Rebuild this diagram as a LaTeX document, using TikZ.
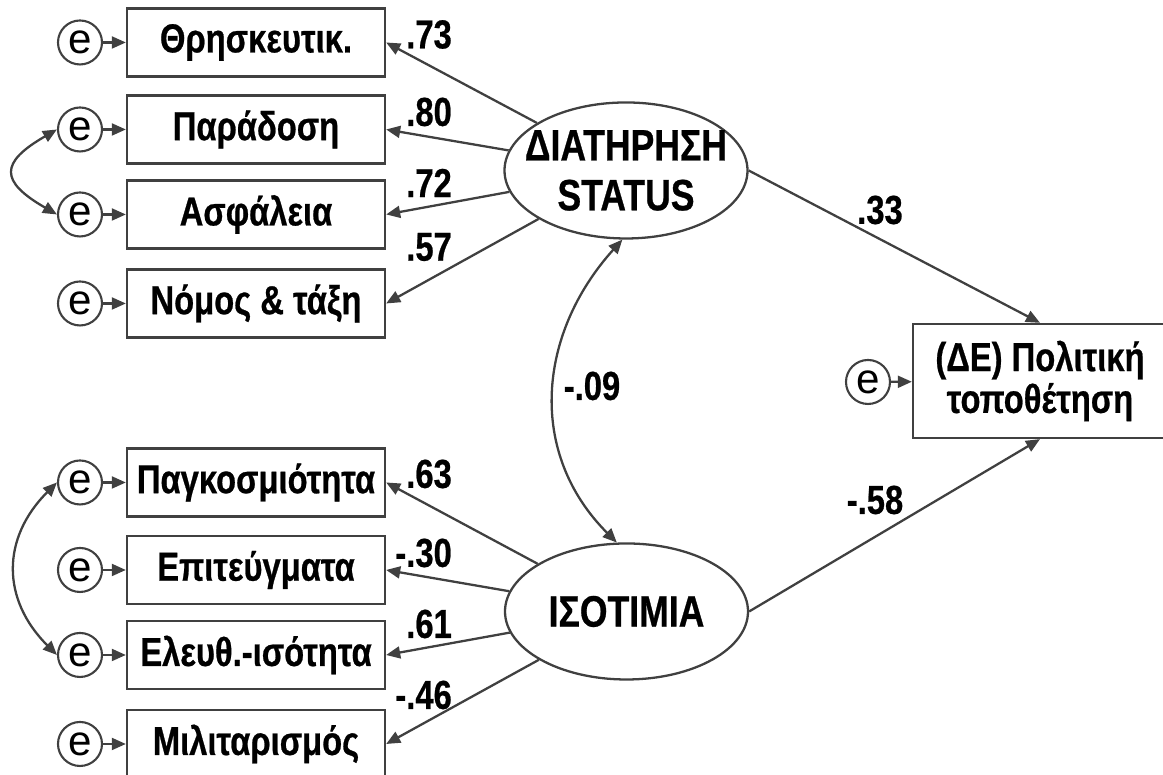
\documentclass[tikz,border=0pt]{standalone}
\usepackage{fontspec}
\setmainfont{Liberation Sans}
\newfontfamily\narrowsans{Liberation Sans}[FakeStretch=0.81,
  BoldFeatures={FakeBold=0.6}]
\usepackage{tikz}
\usetikzlibrary{arrows.meta, shapes.geometric}
\definecolor{linecol}{RGB}{64,64,64}

\begin{document}
\begin{tikzpicture}[
  ind/.style={draw=linecol, line width=0.65pt, minimum width=2.58cm,
              minimum height=0.68cm, inner sep=0pt,
              font=\narrowsans\bfseries\fontsize{11.5}{13}\selectfont},
  err/.style={circle, draw=linecol, line width=0.6pt, minimum size=0.44cm,
              inner sep=0pt, font=\fontsize{12}{12}\selectfont},
  lat/.style={ellipse, draw=linecol, line width=0.65pt, minimum width=2.43cm,
              minimum height=1.36cm, inner xsep=-0.4cm, inner ysep=-0.15cm,
              align=center,
              font=\narrowsans\bfseries\fontsize{12.5}{14.2}\selectfont},
  dv/.style={ind, minimum width=2.54cm, minimum height=1.14cm, align=center,
             font=\narrowsans\bfseries\fontsize{11.5}{11.9}\selectfont},
  num/.style={inner sep=0pt, anchor=east,
              font=\narrowsans\bfseries\fontsize{11.5}{13}\selectfont},
  lnk/.style={-{Triangle[length=4pt, width=3.4pt]}, line width=0.65pt,
              linecol},
  cov/.style={{Triangle[length=4pt, width=3.4pt]}-{Triangle[length=4pt,
              width=3.4pt]}, line width=0.65pt, linecol}
]
  \useasboundingbox (0,0) rectangle (11.63,7.75);

  % latent factors
  \node[lat] (dia) at (6.26,6.045) {ΔΙΑΤΗΡΗΣΗ\\STATUS};
  \node[lat] (iso) at (6.265,1.635) {ΙΣΟΤΙΜΙΑ};

  % status indicators
  \foreach \i/\y/\txt/\ly/\w in {1/7.325/Θρησκευτικ./7.405/.73,
      2/6.455/Παράδοση/6.63/.80, 3/5.605/Ασφάλεια/5.92/.72,
      4/4.715/Νόμος \& τάξη/5.28/.57} {
    \node[ind] (s\i) at (2.56,\y) {\txt};
    \node[err] (es\i) at (0.80,\y) {e};
    \draw[lnk] (es\i) -- (s\i);
    \draw[lnk] (dia) -- (s\i.east);
    \node[num] (ls\i) at (4.525,\ly) {\w};
  }

  % equality indicators
  \foreach \i/\y/\txt/\ly/\w in {1/2.925/Παγκοσμιότητα/3.01/.63,
      2/2.05/Επιτεύγματα/2.22/-.30, 3/1.20/Ελευθ.-ισότητα/1.51/.61,
      4/0.31/Μιλιταρισμός/0.80/-.46} {
    \node[ind] (q\i) at (2.56,\y) {\txt};
    \node[err] (eq\i) at (0.80,\y) {e};
    \draw[lnk] (eq\i) -- (q\i);
    \draw[lnk] (iso) -- (q\i.east);
    \node[num] (lq\i) at (4.525,\ly) {\w};
  }

  % residual covariances
  \draw[cov] (es2.west) to[out=210, in=150, looseness=2] (es3.west);
  \draw[cov] (eq1.west) to[out=225, in=135, looseness=1.17] (eq3.west);

  % factor covariance
  \draw[cov] (dia.-93) to[out=228, in=135, looseness=1.07] (iso.98);
  \node[num, anchor=center] (lcov) at (5.92,3.89) {-.09};

  % outcome
  \node[dv] (pol) at (10.40,3.94) {(ΔΕ) Πολιτική\\τοποθέτηση};
  \node[err] (epol) at (8.68,3.93) {e};
  \draw[lnk] (epol) -- (pol);
  \draw[lnk] (dia.east) -- (pol.north);
  \draw[lnk] (iso.east) -- (pol.south);
  \node[num, anchor=center] (lpa) at (8.80,5.65) {.33};
  \node[num, anchor=center] (lpb) at (8.75,2.75) {-.58};
\end{tikzpicture}
\end{document}
